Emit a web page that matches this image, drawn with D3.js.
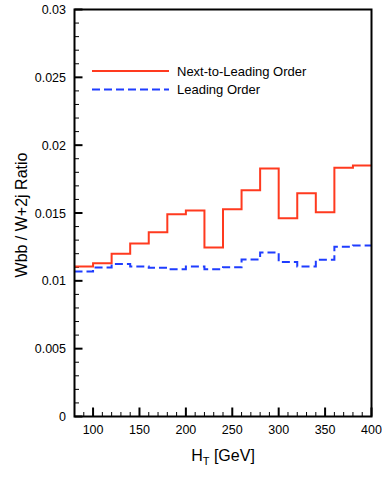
<!DOCTYPE html>
<html>
<head>
<meta charset="utf-8">
<script src="https://cdn.jsdelivr.net/npm/d3@7"></script>
<style>
  body { margin: 0; background: #fff; }
  svg text { font-family: "Liberation Sans", Arial, sans-serif; fill: #000; }
</style>
</head>
<body>
<svg id="chart" width="382" height="491"></svg>
<script>
// bin edges (GeV) and ratio values per bin
const binEdges = [80, 100, 120, 140, 160, 180, 200, 220, 240, 260, 280, 300, 320, 340, 360, 380, 400];
const nloValues = [0.01106, 0.0113, 0.0120, 0.01275, 0.01359, 0.01491, 0.01518, 0.01246, 0.01528, 0.01668, 0.01828, 0.01462, 0.01646, 0.01506, 0.01833, 0.0185];
const loValues = [0.01069, 0.01098, 0.01125, 0.01106, 0.01096, 0.01086, 0.01106, 0.01086, 0.01101, 0.01157, 0.01209, 0.01138, 0.01106, 0.01155, 0.01251, 0.0126];
const xTicks = [100, 150, 200, 250, 300, 350, 400];
const yTicks = [0, 0.005, 0.01, 0.015, 0.02, 0.025, 0.03];
const yTickLabels = ["0", "0.005", "0.01", "0.015", "0.02", "0.025", "0.03"];

(function() {
const svg = d3.select("#chart");
const mLeft = 74.5, mRight = 371.5, mTop = 9.5, mBottom = 416.5;

let x = d3.scaleLinear().domain([80, 400]).range([mLeft, mRight]);
let y = d3.scaleLinear().domain([0, 0.03]).range([mBottom, mTop]);

// minor ticks
const xMinor = d3.range(90, 400, 10).filter(v => v % 50 !== 0);
const yMinor = d3.range(1, 30).filter(v => v % 5 !== 0).map(v => v / 1000);

const ticks = svg.append("g").attr("stroke", "#000");
ticks.selectAll(".xmaj").data(xTicks).enter().append("line")
  .attr("x1", d => x(d)).attr("x2", d => x(d))
  .attr("y1", mBottom).attr("y2", mBottom - 9)
  .attr("stroke-width", 2);
ticks.selectAll(".xmin").data(xMinor).enter().append("line")
  .attr("x1", d => x(d)).attr("x2", d => x(d))
  .attr("y1", mBottom).attr("y2", mBottom - 4.5)
  .attr("stroke-width", 1);
ticks.selectAll(".ymaj").data(yTicks).enter().append("line")
  .attr("x1", mLeft).attr("x2", mLeft + 8)
  .attr("y1", d => y(d)).attr("y2", d => y(d))
  .attr("stroke-width", 2);
ticks.selectAll(".ymin").data(yMinor).enter().append("line")
  .attr("x1", mLeft).attr("x2", mLeft + 4.5)
  .attr("y1", d => y(d)).attr("y2", d => y(d))
  .attr("stroke-width", 1);

// tick labels
svg.selectAll(".xlab").data(xTicks).enter().append("text")
  .attr("x", d => x(d))
  .attr("y", 434)
  .attr("text-anchor", "middle")
  .style("font-size", "12.5px")
  .text(d => d);

svg.selectAll(".ylab").data(yTicks).enter().append("text")
  .attr("x", 66)
  .attr("y", d => y(d) + 4.5)
  .attr("text-anchor", "end")
  .style("font-size", "12.5px")
  .text((d, i) => yTickLabels[i]);

// step lines
function stepData(vals) {
  let pts = vals.map((v, i) => [binEdges[i], v]);
  pts.push([binEdges[binEdges.length - 1], vals[vals.length - 1]]);
  return pts;
}
const line = d3.line().x(d => x(d[0])).y(d => y(d[1])).curve(d3.curveStepAfter);

svg.append("path")
  .datum(stepData(loValues))
  .attr("d", line)
  .attr("fill", "none")
  .attr("stroke", "#1f3dff")
  .attr("stroke-width", 2)
  .attr("stroke-dasharray", "8,4");

svg.append("path")
  .datum(stepData(nloValues))
  .attr("d", line)
  .attr("fill", "none")
  .attr("stroke", "#ff3a1f")
  .attr("stroke-width", 2);

// frame
svg.append("rect")
  .attr("x", mLeft).attr("y", mTop)
  .attr("width", mRight - mLeft).attr("height", mBottom - mTop)
  .attr("fill", "none")
  .attr("stroke", "#000")
  .attr("stroke-width", 2);

// legend
const legend = [
  { label: "Next-to-Leading Order", color: "#ff3a1f", dash: null, y: 71 },
  { label: "Leading Order", color: "#1f3dff", dash: "8,4", y: 89.5 }
];
legend.forEach(l => {
  svg.append("line")
    .attr("x1", 92).attr("x2", 169)
    .attr("y1", l.y).attr("y2", l.y)
    .attr("stroke", l.color)
    .attr("stroke-width", 2)
    .attr("stroke-dasharray", l.dash);
  svg.append("text")
    .attr("x", 177)
    .attr("y", l.y + 4.5)
    .style("font-size", "13px")
    .text(l.label);
});

// axis titles
const xt = svg.append("text")
  .attr("x", 223)
  .attr("y", 461)
  .attr("text-anchor", "middle")
  .style("font-size", "16px");
xt.append("tspan").text("H");
xt.append("tspan").attr("dy", 4).style("font-size", "11px").text("T");
xt.append("tspan").attr("dy", -4).text(" [GeV]");

svg.append("text")
  .attr("transform", "rotate(-90)")
  .attr("x", -215)
  .attr("y", 27)
  .attr("text-anchor", "middle")
  .style("font-size", "16px")
  .text("Wbb / W+2j Ratio");
})();
</script>
</body>
</html>
